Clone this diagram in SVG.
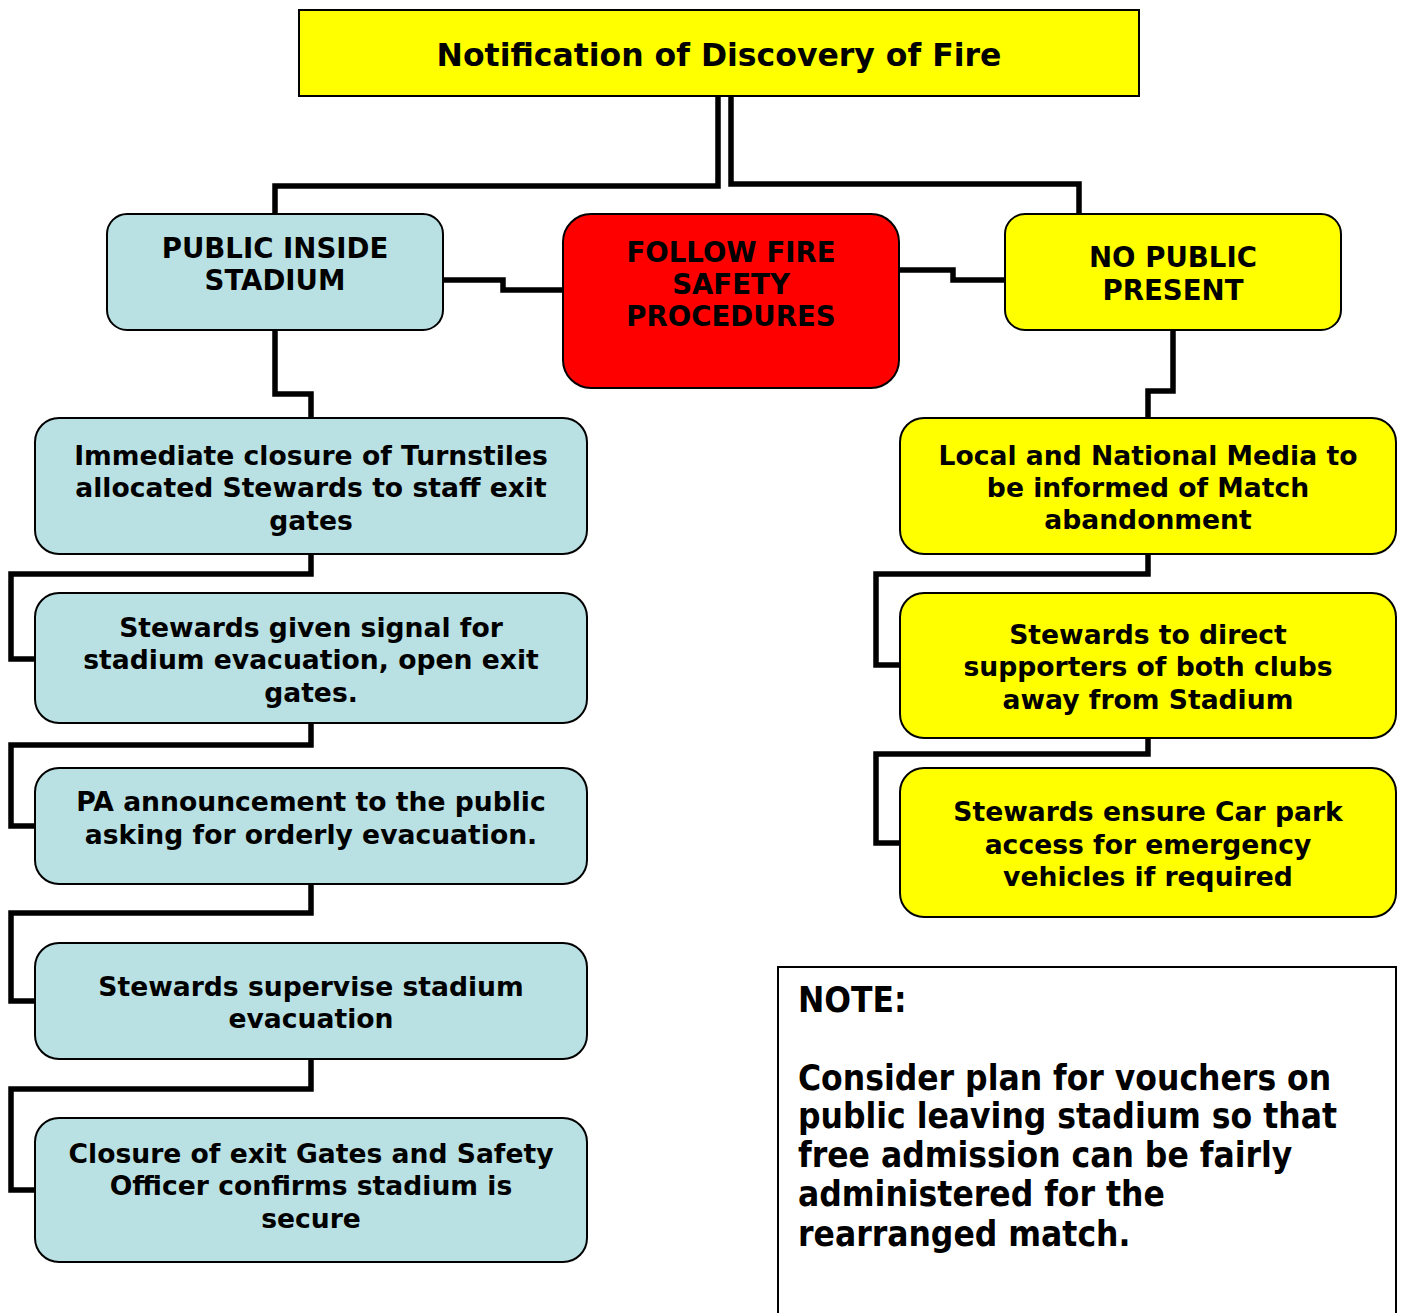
<svg xmlns="http://www.w3.org/2000/svg" width="1405" height="1313" viewBox="0 0 1405 1313">
<style>
.box{stroke:#000;stroke-width:2}
.blue{fill:#B9E0E3}
.yel{fill:#FFFF00}
.red{fill:#FF0000}
.conn{fill:none;stroke:#000;stroke-width:5.5;stroke-linejoin:miter;stroke-linecap:butt}
text{font-family:"DejaVu Sans","Liberation Sans",sans-serif;font-weight:bold;fill:#000;text-anchor:middle}
.t{font-size:26.6px}
.u{font-size:27.6px}
.title{font-size:31.5px}
.note{font-family:"DejaVu Sans Condensed","DejaVu Sans","Liberation Sans",sans-serif;font-size:35px;text-anchor:start}
</style>
<rect width="1405" height="1313" fill="#fff"/>
<g id="connectors">
<polyline class="conn" points="718,96 718,186 275,186 275,214"/>
<polyline class="conn" points="731,96 731,184 1079,184 1079,214"/>
<polyline class="conn" points="443,280 503,280 503,290 563,290"/>
<polyline class="conn" points="899,270 953,270 953,280 1005,280"/>
<polyline class="conn" points="275,330 275,394 311,394 311,418"/>
<polyline class="conn" points="311,554 311,574 11,574 11,659 35,659"/>
<polyline class="conn" points="311,723 311,745 11,745 11,826 35,826"/>
<polyline class="conn" points="311,884 311,913 11,913 11,1001 35,1001"/>
<polyline class="conn" points="311,1059 311,1089 11,1089 11,1190 35,1190"/>
<polyline class="conn" points="1173,330 1173,391 1148,391 1148,418"/>
<polyline class="conn" points="1148,554 1148,574 876,574 876,665 900,665"/>
<polyline class="conn" points="1148,738 1148,754 876,754 876,843 900,843"/>
</g>
<g id="title">
<rect class="box yel" x="299" y="10" width="840" height="86"/>
<text class="title" x="719" y="65.5">Notification of Discovery of Fire</text>
</g>
<g id="public-inside">
<rect class="box blue" x="107" y="214" width="336" height="116" rx="20"/>
<text class="u" x="275" y="258">PUBLIC INSIDE</text>
<text class="u" x="275" y="290">STADIUM</text>
</g>
<g id="follow-fire">
<rect class="box red" x="563" y="214" width="336" height="174" rx="28"/>
<text class="u" x="731" y="262">FOLLOW FIRE</text>
<text class="u" x="731" y="294">SAFETY</text>
<text class="u" x="731" y="326">PROCEDURES</text>
</g>
<g id="no-public">
<rect class="box yel" x="1005" y="214" width="336" height="116" rx="20"/>
<text class="u" x="1173" y="267">NO PUBLIC</text>
<text class="u" x="1173" y="300">PRESENT</text>
</g>
<g id="immediate-closure">
<rect class="box blue" x="35" y="418" width="552" height="136" rx="24"/>
<text class="t" x="311" y="465">Immediate closure of Turnstiles</text>
<text class="t" x="311" y="497">allocated Stewards to staff exit</text>
<text class="t" x="311" y="530">gates</text>
</g>
<g id="stewards-signal">
<rect class="box blue" x="35" y="593" width="552" height="130" rx="24"/>
<text class="t" x="311" y="637">Stewards given signal for</text>
<text class="t" x="311" y="669">stadium evacuation, open exit</text>
<text class="t" x="311" y="702">gates.</text>
</g>
<g id="pa-announcement">
<rect class="box blue" x="35" y="768" width="552" height="116" rx="24"/>
<text class="t" x="311" y="811">PA announcement to the public</text>
<text class="t" x="311" y="844">asking for orderly evacuation.</text>
</g>
<g id="stewards-supervise">
<rect class="box blue" x="35" y="943" width="552" height="116" rx="24"/>
<text class="t" x="311" y="996">Stewards supervise stadium</text>
<text class="t" x="311" y="1028">evacuation</text>
</g>
<g id="closure-exit">
<rect class="box blue" x="35" y="1118" width="552" height="144" rx="24"/>
<text class="t" x="311" y="1163">Closure of exit Gates and Safety</text>
<text class="t" x="311" y="1195">Officer confirms stadium is</text>
<text class="t" x="311" y="1228">secure</text>
</g>
<g id="media">
<rect class="box yel" x="900" y="418" width="496" height="136" rx="24"/>
<text class="t" x="1148" y="465">Local and National Media to</text>
<text class="t" x="1148" y="497">be informed of Match</text>
<text class="t" x="1148" y="529">abandonment</text>
</g>
<g id="stewards-direct">
<rect class="box yel" x="900" y="593" width="496" height="145" rx="24"/>
<text class="t" x="1148" y="644">Stewards to direct</text>
<text class="t" x="1148" y="676">supporters of both clubs</text>
<text class="t" x="1148" y="709">away from Stadium</text>
</g>
<g id="car-park">
<rect class="box yel" x="900" y="768" width="496" height="149" rx="24"/>
<text class="t" x="1148" y="821">Stewards ensure Car park</text>
<text class="t" x="1148" y="854">access for emergency</text>
<text class="t" x="1148" y="886">vehicles if required</text>
</g>
<g id="note">
<rect x="778" y="967" width="618" height="360" fill="#fff" stroke="#000" stroke-width="2"/>
<text class="note" x="798" y="1012">NOTE:</text>
<text class="note" x="798" y="1090">Consider plan for vouchers on</text>
<text class="note" x="798" y="1128">public leaving stadium so that</text>
<text class="note" x="798" y="1167">free admission can be fairly</text>
<text class="note" x="798" y="1206">administered for the</text>
<text class="note" x="798" y="1246">rearranged match.</text>
</g>
</svg>
